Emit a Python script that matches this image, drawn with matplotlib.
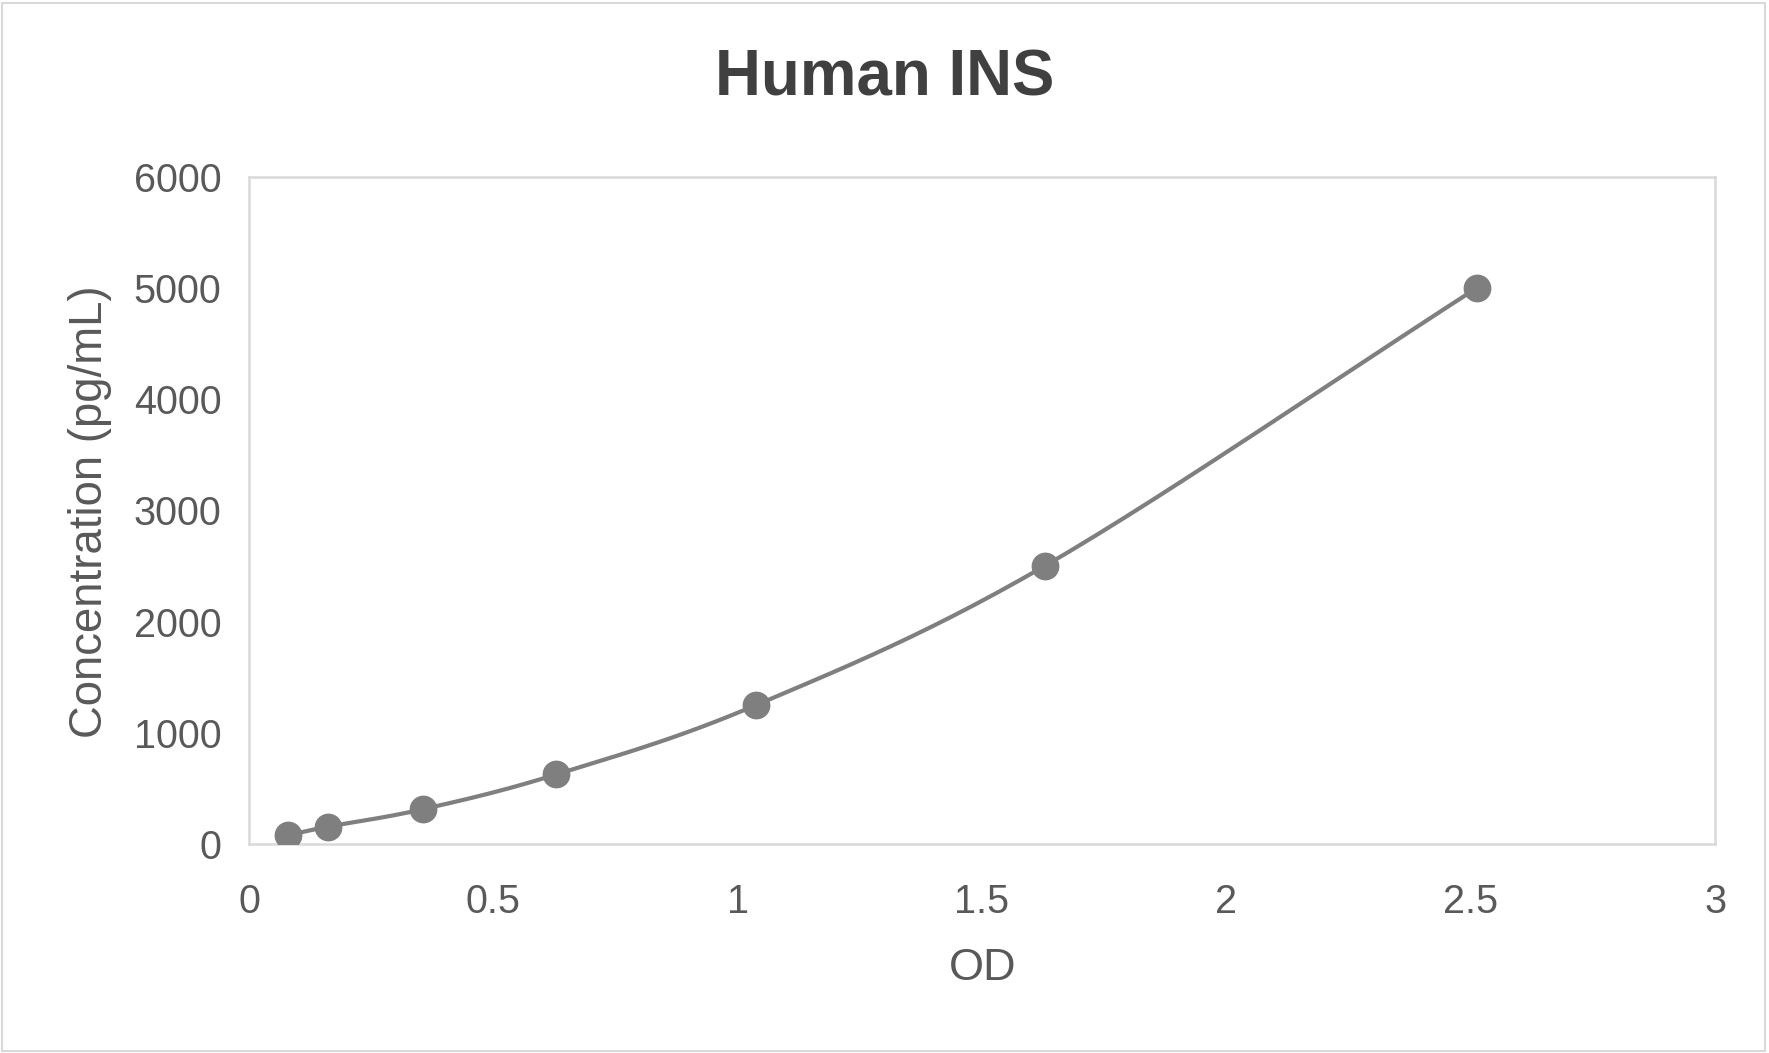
import numpy as np
import matplotlib.pyplot as plt
from matplotlib.patches import Rectangle

plt.rcParams['font.family'] = ['Liberation Sans', 'DejaVu Sans']

# standard curve readings
od = [0.079, 0.162, 0.355, 0.628, 1.038, 1.628, 2.512]
conc = [78, 156, 312, 625, 1250, 2500, 5000]

x_ticks = [0, 0.5, 1, 1.5, 2, 2.5, 3]
y_ticks = [0, 1000, 2000, 3000, 4000, 5000, 6000]


def smooth(xs, ys, n=30):
    # catmull-rom through the points, like Excel's smoothed line
    p = np.column_stack([xs, ys]).astype(float)
    p = np.vstack([2 * p[0] - p[1], p, 2 * p[-1] - p[-2]])
    out = []
    t = np.linspace(0, 1, n)[:, None]
    for i in range(1, len(p) - 2):
        p0, p1, p2, p3 = p[i - 1], p[i], p[i + 1], p[i + 2]
        seg = 0.5 * ((2 * p1) + (-p0 + p2) * t + (2 * p0 - 5 * p1 + 4 * p2 - p3) * t ** 2
                     + (-p0 + 3 * p1 - 3 * p2 + p3) * t ** 3)
        out.append(seg)
    out = np.vstack(out)
    return out[:, 0], out[:, 1]


fig = plt.figure(figsize=(17.69, 10.53), dpi=100)
ax = fig.add_axes([0.1408, 0.1985, 0.9695 - 0.1408, 0.832 - 0.1985])

sx, sy = smooth(od, conc)
ax.plot(sx, sy, color='#7f7f7f', lw=3.0, zorder=2)
ax.plot(od, conc, 'o', color='#7f7f7f', ms=19, zorder=3)

ax.set_xlim(0, 3)
ax.set_ylim(0, 6000)
ax.set_xticks(x_ticks)
ax.set_xticklabels(['%g' % v for v in x_ticks])
ax.set_yticks(y_ticks)
ax.tick_params(length=0, labelsize=28.5, colors='#595959')
ax.tick_params(axis='x', pad=28)
ax.tick_params(axis='y', pad=20)
for s in ax.spines.values():
    s.set_color('#d9d9d9')
    s.set_linewidth(1.8)

fig.text(0.5, 1 - 79 / 1053, 'Human INS', ha='center', va='center',
         fontsize=45.8, fontweight='bold', color='#404040')
fig.text(983 / 1769, 1 - 969 / 1053, 'OD', ha='center', va='center',
         fontsize=32.5, color='#595959')
fig.text(90 / 1769, 1 - 512 / 1053, 'Concentration (pg/mL)', ha='center', va='center',
         rotation=90, fontsize=32.8, color='#595959')

fig.patches.append(Rectangle((0.001, 0.002), 0.997, 0.995, transform=fig.transFigure,
                             fill=False, edgecolor='#d9d9d9', lw=1.5))

fig.savefig('out.png', dpi=100)
